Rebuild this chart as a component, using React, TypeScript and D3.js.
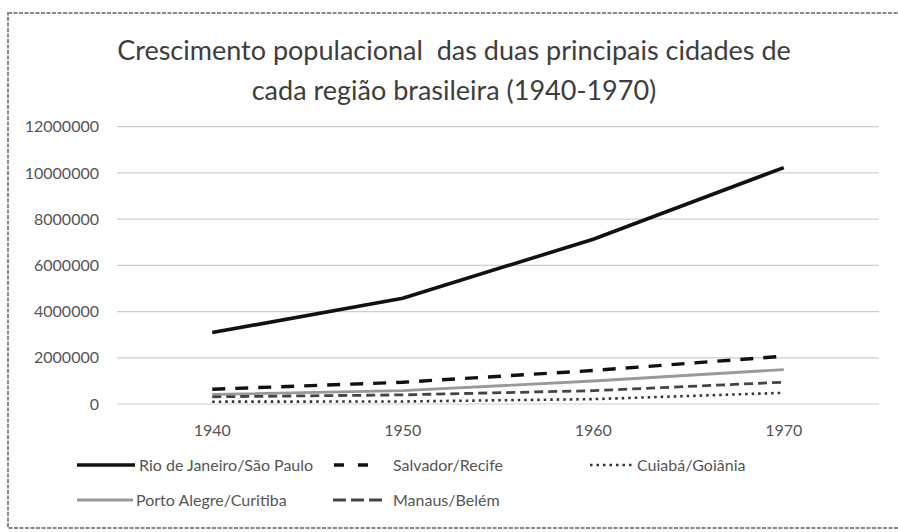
import { useEffect, useRef } from "react";
import * as d3 from "d3";

const years = ["1940", "1950", "1960", "1970"];
const rioSaoPaulo = [3090000, 4580000, 7130000, 10230000];
const salvadorRecife = [638000, 942000, 1450000, 2070000];
const cuiabaGoiania = [100000, 109000, 210000, 484000];
const portoAlegreCuritiba = [413000, 575000, 996000, 1490000];
const manausBelem = [312000, 395000, 577000, 945000];
const yTicks = [0, 2000000, 4000000, 6000000, 8000000, 10000000, 12000000];

const series = [
  { name: "Rio de Janeiro/São Paulo", values: rioSaoPaulo, color: "#111", width: 3.6, dash: null },
  { name: "Salvador/Recife", values: salvadorRecife, color: "#111", width: 3.4, dash: "13,10" },
  { name: "Cuiabá/Goiânia", values: cuiabaGoiania, color: "#333", width: 2.6, dash: "2.5,4" },
  { name: "Porto Alegre/Curitiba", values: portoAlegreCuritiba, color: "#999", width: 2.8, dash: null },
  { name: "Manaus/Belém", values: manausBelem, color: "#444", width: 2.8, dash: "9,5" },
];

export default function App() {
  const svgRef = useRef<SVGSVGElement>(null);

  useEffect(() => {
    const W = 898;
    const svg = d3.select(svgRef.current);
    svg.selectAll("*").remove();
    const font = "Lato, 'Open Sans', sans-serif";

    // frame
    svg.append("rect").attr("x", 8).attr("y", 13).attr("width", W + 10).attr("height", 515)
      .attr("fill", "#fff").attr("stroke", "#888").attr("stroke-width", 2).attr("stroke-dasharray", "4,1.5");

    // title
    const title = svg.append("text").attr("text-anchor", "middle").attr("fill", "#3d3d3d")
      .attr("font-family", font).attr("font-size", 27).style("white-space", "pre");
    title.append("tspan").attr("x", 454).attr("y", 60).text("Crescimento populacional  das duas principais cidades de");
    title.append("tspan").attr("x", 454).attr("y", 100).text("cada região brasileira (1940-1970)");

    const x = d3.scalePoint<string>().domain(years).range([117, 879]).padding(0.5);
    const y = d3.scaleLinear().domain([0, 12000000]).range([404, 126.7]);

    // grid
    svg.append("g").selectAll("line").data(yTicks).join("line")
      .attr("x1", 117).attr("x2", 879)
      .attr("y1", d => y(d)).attr("y2", d => y(d))
      .attr("stroke", "#cdcdcd").attr("stroke-width", 1.2);

    // y labels
    svg.append("g").selectAll("text").data(yTicks).join("text")
      .attr("x", 99).attr("y", d => y(d)).attr("dy", "0.35em")
      .attr("text-anchor", "end").attr("fill", "#555")
      .attr("font-family", font).attr("font-size", 16)
      .text(d => String(d));

    // x labels
    svg.append("g").selectAll("text").data(years).join("text")
      .attr("x", d => x(d)!).attr("y", 436)
      .attr("text-anchor", "middle").attr("fill", "#555")
      .attr("font-family", font).attr("font-size", 16)
      .text(d => d);

    const line = d3.line<number>().x((_, i) => x(years[i])!).y(d => y(d));

    const order = [3, 4, 2, 1, 0];
    order.forEach(i => {
      const s = series[i];
      const p = svg.append("path").datum(s.values)
        .attr("fill", "none").attr("stroke", s.color).attr("stroke-width", s.width)
        .attr("d", line);
      if (s.dash) p.attr("stroke-dasharray", s.dash);
    });

    // legend
    const legend = [
      { s: series[0], x: 77, y: 465, len: 58, tx: 139, dash: null },
      { s: series[1], x: 334, y: 465, len: 34, tx: 393, dash: "10,14" },
      { s: series[2], x: 590, y: 465, len: 42, tx: 637, dash: "2.5,4" },
      { s: series[3], x: 77, y: 500, len: 56, tx: 136, dash: null },
      { s: series[4], x: 333, y: 500, len: 49, tx: 393, dash: "13,5" },
    ];
    legend.forEach(l => {
      const p = svg.append("line").attr("x1", l.x).attr("x2", l.x + l.len)
        .attr("y1", l.y).attr("y2", l.y)
        .attr("stroke", l.s.color).attr("stroke-width", l.s.width);
      if (l.dash) p.attr("stroke-dasharray", l.dash);
      svg.append("text").attr("x", l.tx).attr("y", l.y).attr("dy", "0.35em")
        .attr("fill", "#555").attr("font-family", font).attr("font-size", 16)
        .text(l.s.name);
    });
  }, []);

  return (
    <svg ref={svgRef} width={898} height={532}
      style={{ position: "absolute", left: 0, top: 0, background: "#fff" }} />
  );
}
